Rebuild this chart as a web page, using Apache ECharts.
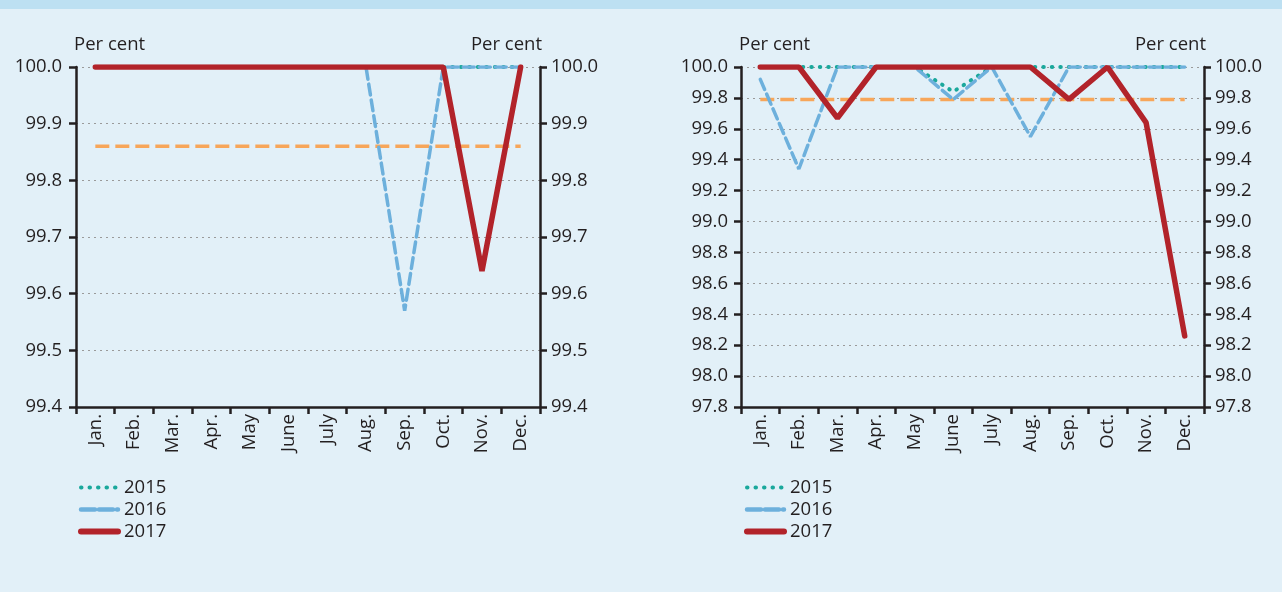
<!DOCTYPE html>
<html>
<head>
<meta charset="utf-8">
<script src="https://cdn.jsdelivr.net/npm/echarts@6/dist/echarts.min.js"></script>
<style>
html, body { margin: 0; padding: 0; background: #e2f0f8; }
.topBand { height: 9px; background: #bde0f2; }
#chart { width: 1282px; height: 583px; }
</style>
</head>
<body>
<div class="topBand"></div>
<div id="chart"></div>
<script>
const months = ['Jan.', 'Feb.', 'Mar.', 'Apr.', 'May', 'June', 'July', 'Aug.', 'Sep.', 'Oct.', 'Nov.', 'Dec.']
const years = ['2015', '2016', '2017']

// left panel
const left2015 = [100, 100, 100, 100, 100, 100, 100, 100, 100, 100, 100, 100]
const left2016 = [100, 100, 100, 100, 100, 100, 100, 100, 99.57, 100, 100, 100]
const left2017 = [100, 100, 100, 100, 100, 100, 100, 100, 100, 100, 99.64, 100]
const leftTarget = [99.86, 99.86, 99.86, 99.86, 99.86, 99.86, 99.86, 99.86, 99.86, 99.86, 99.86, 99.86]

// right panel
const right2015 = [100, 100, 100, 100, 100, 99.84, 100, 100, 100, 100, 100, 100]
const right2016 = [99.92, 99.34, 100, 100, 100, 99.79, 100, 99.55, 100, 100, 100, 100]
const right2017 = [100, 100, 99.67, 100, 100, 100, 100, 100, 99.79, 100, 99.64, 98.26]
const rightTarget = [99.79, 99.79, 99.79, 99.79, 99.79, 99.79, 99.79, 99.79, 99.79, 99.79, 99.79, 99.79]

const textColor = '#231f20'
const font = 'Open Sans'
const fontSize = 18.5

const colors = {
    y2015: '#1aa89c',
    y2016: '#6db0dc',
    y2017: '#b2232a',
    target: '#f7a65a'
}

const yAxisFor = (gridIndex, min, max, interval, position, margin) => ({
    type: 'value',
    gridIndex: gridIndex,
    position: position,
    min: min,
    max: max,
    interval: interval,
    name: 'Per cent',
    nameLocation: 'end',
    nameGap: 13,
    nameTextStyle: {
        color: textColor,
        fontFamily: font,
        fontSize: fontSize,
        align: position === 'left' ? 'left' : 'right',
        padding: position === 'left' ? [0, 0, 0, -2] : [0, -2, 0, 0]
    },
    axisLine: { show: true, lineStyle: { color: textColor, width: 2.5 } },
    axisTick: { show: true, inside: false, length: 7, lineStyle: { color: textColor, width: 2.5 } },
    axisLabel: {
        color: textColor,
        fontFamily: font,
        fontSize: fontSize,
        margin: margin,
        formatter: (v) => v.toFixed(1)
    },
    splitLine: {
        show: position === 'left',
        lineStyle: { color: '#9a9a9a', type: [2, 4], width: 1 }
    }
})

const xAxisFor = (gridIndex) => ({
    type: 'category',
    gridIndex: gridIndex,
    data: months,
    boundaryGap: true,
    axisLine: { lineStyle: { color: textColor, width: 2.5 } },
    axisTick: { show: true, length: 7, lineStyle: { color: textColor, width: 2.5 } },
    axisLabel: {
        rotate: 90,
        interval: 0,
        color: textColor,
        fontFamily: font,
        fontSize: fontSize,
        margin: 7
    }
})

const seriesFor = (xIndex, yIndex, d2015, d2016, d2017, target) => [
    {
        name: 'target',
        type: 'line',
        xAxisIndex: xIndex,
        yAxisIndex: yIndex,
        data: target,
        symbol: 'none',
        z: 1,
        lineStyle: { color: colors.target, width: 3.5, type: [14, 6] },
        itemStyle: { color: colors.target }
    },
    {
        name: '2015',
        type: 'line',
        xAxisIndex: xIndex,
        yAxisIndex: yIndex,
        data: d2015,
        symbol: 'none',
        z: 2,
        lineStyle: { color: colors.y2015, width: 4, type: [0.5, 8], cap: 'round' },
        itemStyle: { color: colors.y2015 }
    },
    {
        name: '2016',
        type: 'line',
        xAxisIndex: xIndex,
        yAxisIndex: yIndex,
        data: d2016,
        symbol: 'none',
        z: 3,
        lineStyle: { color: colors.y2016, width: 3.5, type: [11, 5], cap: 'round' },
        itemStyle: { color: colors.y2016 }
    },
    {
        name: '2017',
        type: 'line',
        xAxisIndex: xIndex,
        yAxisIndex: yIndex,
        data: d2017,
        symbol: 'none',
        z: 4,
        lineStyle: { color: colors.y2017, width: 5.5, cap: 'round' },
        itemStyle: { color: colors.y2017 }
    }
]

const legendLines = {
    '2015': { width: 4 },
    '2016': { width: 4.5, type: [14, 4] },
    '2017': { width: 6 }
}

const legendFor = (left) => ({
    data: years.map((y) => ({ name: y, lineStyle: legendLines[y] })),
    orient: 'vertical',
    left: left,
    top: 464,
    itemWidth: 37,
    itemHeight: 14,
    itemGap: 3,
    selectedMode: false,
    itemStyle: { opacity: 0 },
    textStyle: { color: textColor, fontFamily: font, fontSize: fontSize, padding: [0, 0, 0, 1] }
})

const chart = echarts.init(document.getElementById('chart'))
const option = {
    animation: false,
    grid: [
        { left: 76, right: 742, top: 58, bottom: 185 },
        { left: 741, right: 78, top: 58, bottom: 185 }
    ],
    legend: [legendFor(73), legendFor(739)],
    xAxis: [xAxisFor(0), xAxisFor(1)],
    yAxis: [
        yAxisFor(0, 99.4, 100, 0.1, 'left', 14),
        yAxisFor(0, 99.4, 100, 0.1, 'right', 11),
        yAxisFor(1, 97.8, 100, 0.2, 'left', 13),
        yAxisFor(1, 97.8, 100, 0.2, 'right', 11)
    ],
    series: [
        ...seriesFor(0, 0, left2015, left2016, left2017, leftTarget),
        ...seriesFor(1, 2, right2015, right2016, right2017, rightTarget)
    ]
}
chart.setOption(option)
</script>
</body>
</html>
